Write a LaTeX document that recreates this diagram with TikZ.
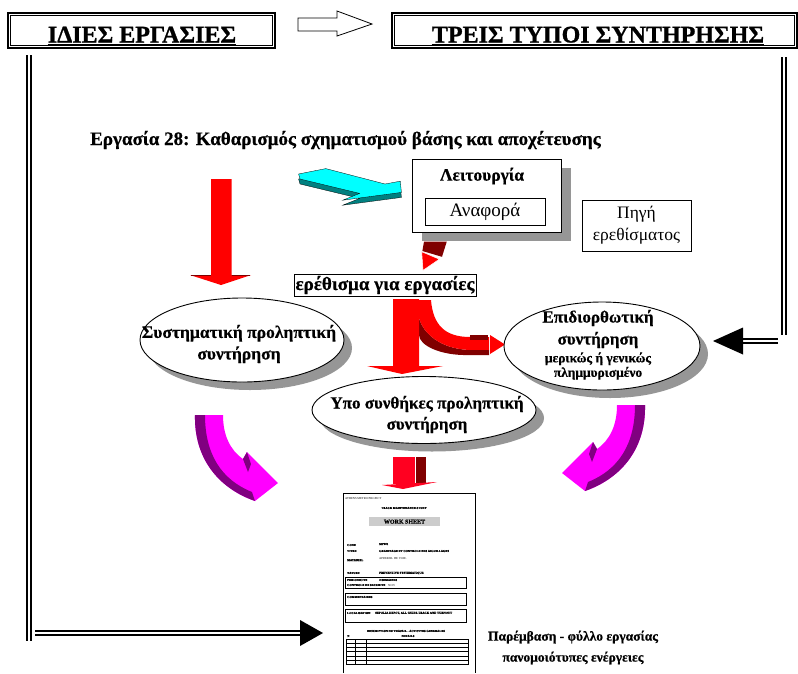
\documentclass[tikz,border=0pt]{standalone}
\usepackage{fontspec}
\setmainfont{Liberation Serif}[BoldFeatures={FakeBold=0.5}]
\newfontfamily\hvy{Liberation Serif}[BoldFeatures={FakeBold=1}]
\usetikzlibrary{shapes.geometric,shadows}
\definecolor{dred}{HTML}{800000}
\definecolor{wred}{HTML}{FF0020}
\definecolor{magen}{HTML}{FF00FF}
\definecolor{purp}{HTML}{800080}
\definecolor{cyanA}{HTML}{00FFFF}
\definecolor{tealA}{HTML}{008080}
\definecolor{shad}{HTML}{969696}
\newcommand\magshape{%
  \fill[magen] (617,405) -- (645,405) .. controls (646,448) and (622,478) .. (585,491) -- (562,473) -- (593,442) -- (597,449) .. controls (610,440) and (617,425) .. (617,405) -- cycle;
  \fill[purp] (635,405) -- (645,405) .. controls (646,448) and (622,478) .. (585,491) -- (588,482) .. controls (618,470) and (635,445) .. (635,405) -- cycle;
  \fill[purp] (593,442) -- (597,449) -- (592,462) -- (589,454) -- cycle;
}
\begin{document}
\begin{tikzpicture}[x=1pt,y=-1pt,
  txt/.style={inner sep=0pt},
  hbox/.style={draw, line width=1.6pt, inner sep=0pt},
  htext/.style={inner sep=0pt, anchor=base, font=\fontsize{24}{28}\selectfont\hvy\bfseries},
  ell/.style={ellipse, draw, fill=white, line width=0.9pt, inner sep=0pt,
    drop shadow={shadow xshift=8pt, shadow yshift=-8pt, fill=shad, opacity=1}},
  etext/.style={inner sep=0pt, align=center, font=\fontsize{17.5}{21.5}\selectfont\bfseries},
  rbox/.style={draw, line width=0.9pt, inner sep=0pt},
  dblline/.style={draw=black, double=white, double distance=1.6pt, line width=2pt},
  ws/.style={inner sep=0pt, anchor=west, font=\fontsize{3}{3.5}\selectfont},
  wsb/.style={inner sep=0pt, anchor=west, font=\fontsize{3}{3.5}\selectfont\bfseries},
  wsc/.style={inner sep=0pt, font=\fontsize{3}{3.5}\selectfont\bfseries},
  wsrow/.style={line width=0.6pt}
]
\useasboundingbox (0,0) rectangle (798,673);
\fill[white] (0,0) rectangle (798,673);

% ---- header boxes
\node[hbox, minimum width=267pt, minimum height=35pt] (ides) at (141.5,30.5) {};
\draw[line width=0.6pt] ([shift={(3.5pt,3.5pt)}]ides.south west) rectangle ([shift={(-3.5pt,-3.5pt)}]ides.north east);
\node[htext] (idest) at (142,42.5) {ΙΔΙΕΣ ΕΡΓΑΣΙΕΣ};
\draw[line width=1.4pt] ([yshift=-2pt]idest.base west) -- ([yshift=-2pt]idest.base east);

\node[hbox, minimum width=405pt, minimum height=35pt] (treis) at (594.5,30.5) {};
\draw[line width=0.6pt] ([shift={(3.5pt,3.5pt)}]treis.south west) rectangle ([shift={(-3.5pt,-3.5pt)}]treis.north east);
\node[htext] (treist) at (598,42.5) {ΤΡΕΙΣ ΤΥΠΟΙ ΣΥΝΤΗΡΗΣΗΣ};
\draw[line width=1.4pt] ([yshift=-2pt]treist.base west) -- ([yshift=-2pt]treist.base east);

% hollow arrow between headers
\draw[line width=0.8pt, fill=white] (298,18) -- (337,18) -- (337,11) -- (372,24) -- (337,36) -- (337,31) -- (298,31) -- cycle;

% ---- frame connectors
\coordinate (L1) at (29,55);
\coordinate (L2) at (29,641);
\coordinate (L3) at (35,633);
\coordinate (L4) at (301,633);
\draw[dblline] (L1) -- (L2);
\draw[dblline] (L3) -- (L4);
\fill (300,620) -- (323,633) -- (300,646) -- cycle;

\coordinate (R1) at (784,57);
\coordinate (R2) at (784,335);
\coordinate (R3) at (778,341);
\coordinate (R4) at (742,341);
\draw[dblline] (R1) -- (R2);
\draw[dblline] (R3) -- (R4);
\fill (743,327.5) -- (713,341) -- (743,354.5) -- cycle;

% ---- task title
\node[txt, anchor=base west, font=\fontsize{19}{22}\selectfont\bfseries] (task) at (90,145) {Εργασία 28: Καθαρισμός σχηματισμού βάσης και αποχέτευσης};

% ---- Λειτουργία box
\node[rbox, fill=white, minimum width=149pt, minimum height=73pt,
  drop shadow={shadow xshift=10pt, shadow yshift=-9pt, fill=shad, opacity=1}] (leit) at (486.5,195.5) {};
\node[txt, font=\fontsize{17.5}{20}\selectfont\bfseries] (leitt) at (482,176) {Λειτουργία};
\node[rbox, minimum width=120pt, minimum height=27pt, font=\fontsize{19}{22}\selectfont] (anaf) at (485,211.5) {Αναφορά};
\node[draw, line width=0.9pt, inner sep=0pt, minimum width=109pt, minimum height=51pt, align=center,
  font=\fontsize{17.5}{22}\selectfont] (pigi) at (636.5,225.5) {Πηγή\\ερεθίσματος};

% cyan arrow
\fill[tealA, draw=black, line width=0.3pt, yshift=-5pt] (298.6,174) -- (325.8,168.6) -- (385,184) -- (400.3,181.2) -- (401.4,192.4) -- (342.7,200.2) -- (359.7,193.4) -- (300,179) -- cycle;
\fill[cyanA, draw=black, line width=0.3pt] (298.6,174) -- (325.8,168.6) -- (385,184) -- (400.3,181.2) -- (401.4,192.4) -- (342.7,200.2) -- (359.7,193.4) -- (300,179) -- cycle;

% small arrow from Λειτουργία to stimulus
\fill[dred] (424,241.5) -- (446.8,241.5) -- (442,256.8) -- (422.4,251) -- cycle;
\fill[red, draw=white, line width=0.5pt] (421.7,251.7) -- (439.3,259.2) -- (423,270.3) -- cycle;

% stimulus box
\node[rbox, minimum width=182pt, minimum height=22pt, font=\fontsize{19}{22}\selectfont\bfseries] (ereth) at (385,285) {ερέθισμα για εργασίες};

% ---- left red arrow
\fill[red] (211,179) -- (231.5,179) -- (231.5,275) -- (251,275) -- (221,285) -- (190,275) -- (211,275) -- cycle;
\draw[dred, line width=0.8pt] (191,275.3) -- (211,275.3) (231.5,275.3) -- (250,275.3);

% ---- curved red arrow to corrective
\fill[dred] (419,318) .. controls (423,333) and (440,349) .. (470,350) -- (489,350) -- (489,355) -- (470,355) .. controls (440,356) and (419,345) .. (419,335) -- cycle;
\fill[red] (419,300) -- (431,300) .. controls (433,325) and (445,337) .. (470,337) -- (489,337) -- (489,350) -- (470,350) .. controls (440,349) and (423,333) .. (419,318) -- cycle;
\fill[dred] (470,335) rectangle (488,340);
\fill[dred] (470,350) rectangle (488,355);
\fill[red] (490,335) -- (505,344.5) -- (490,354) -- cycle;

% ---- middle red arrow
\fill[red] (393,299) -- (419,299) -- (419,366) -- (443,366) -- (402,374) -- (367,366) -- (393,366) -- cycle;

% ---- ellipses
\node[ell, minimum width=204pt, minimum height=84pt] (sys) at (242,340) {};
\node[etext] (syst) at (239,344) {Συστηματική προληπτική\\συντήρηση};

\node[ell, minimum width=224pt, minimum height=67pt] (ypo) at (424,410) {};
\node[etext, font=\fontsize{17}{21}\selectfont\bfseries] (ypot) at (427,414.5) {Υπο συνθήκες προληπτική\\συντήρηση};

\node[ell, minimum width=196pt, minimum height=88pt] (epi) at (602,346) {};
\node[etext, font=\fontsize{17}{22}\selectfont\bfseries] (epit) at (598,329) {Επιδιορθωτική\\συντήρηση};
\node[etext, font=\fontsize{13.4}{14.5}\selectfont\bfseries] (epit2) at (598,366) {μερικώς ή γενικώς\\πλημμυρισμένο};

% ---- magenta arrows
\magshape
\begin{scope}[xshift=840pt, yshift=-10pt, xscale=-1]
\magshape
\end{scope}

% ---- small arrow above worksheet
\fill[wred] (393,457) rectangle (415,483.5);
\fill[dred] (415.6,457) rectangle (426,483);
\fill[wred] (382,485) -- (437,482) -- (403,489) -- cycle;

% ---- worksheet
\coordinate (S1) at (343,673);
\coordinate (S2) at (343,493);
\coordinate (S3) at (475,493);
\coordinate (S4) at (475,673);
\draw[line width=0.8pt] (S1) -- (S2) -- (S3) -- (S4);
\node[ws] (w1) at (345,499) {ATHENS METRO PROJECT};
\node[wsc] (w2) at (404,508) {TRACK MAINTENANCE STUDY};
\fill[black!20] (369,517) rectangle (440,526);
\node[inner sep=0pt, font=\fontsize{6}{7}\selectfont\bfseries] (w3) at (404.5,521.7) {WORK SHEET};
\node[wsb] (w4) at (347,545) {CODE};
\node[wsb] (w5) at (379,544) {MP001};
\node[wsb] (w6) at (347,551) {TITRE};
\node[wsb] (w7) at (379,551) {GRADINAGE ET CONTROLE DES AIGUILLAGES};
\node[wsb] (w8) at (347,560) {MATERIEL};
\node[ws] (w9) at (379,559) {APPAREIL DE VOIE .};
\node[wsb] (w10) at (347,573) {NATURE};
\node[wsb] (w11) at (379,573) {PREVENTIVE SYSTEMATIQUE};
\draw[wsrow] (345,577) rectangle (466,588);
\node[wsb] (w12) at (347,580) {PERIODICITE};
\node[wsb] (w13) at (379,580) {2 SEMAINES};
\node[wsb] (w14) at (347,585) {CONTROLE DE SECURITE};
\node[ws] (w15) at (388,585.5) {NON};
\draw[wsrow] (345,593) rectangle (466,605);
\node[wsb] (w16) at (347,597) {COMMENTAIRES};
\draw[wsrow] (345,609) rectangle (466,622);
\node[wsb] (w17) at (347,613) {LOCALISATION};
\node[wsb] (w18) at (375,613) {SEPOLIA DEPOT, ALL GUIDE TRACK AND TURNOUT};
\node[wsc] (w19) at (406,631) {DESCRIPTION DU TRAVAIL - ACTIVITES GENERALES};
\node[wsb] (w20) at (347,636) {N};
\node[wsc] (w21) at (408,636) {DETAILS};
\draw[line width=0.5pt] (346,639.3) rectangle (468,664);
\foreach \yy in {643.3,647.7,651.7,656,660} {\draw[line width=0.5pt] (346,\yy) -- (468,\yy);}
\foreach \xx in {355,366.7} {\draw[line width=0.5pt] (\xx,639.3) -- (\xx,664);}

% ---- caption
\node[txt, font=\fontsize{13.5}{17}\selectfont\bfseries] (cap1) at (573,637) {Παρέμβαση - φύλλο εργασίας};
\node[txt, font=\fontsize{13.5}{17}\selectfont\bfseries] (cap2) at (573,658) {πανομοιότυπες ενέργειες};
\end{tikzpicture}
\end{document}
